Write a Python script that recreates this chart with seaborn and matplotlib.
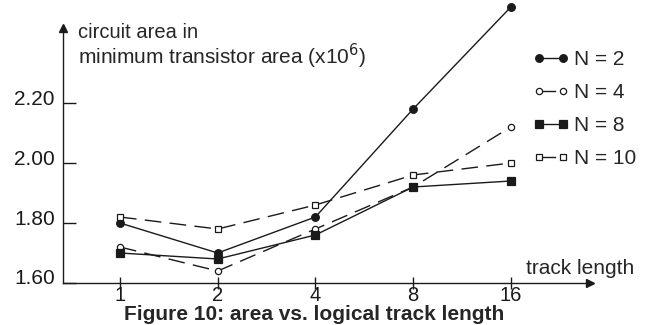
import numpy as np
import pandas as pd
import seaborn as sns
import matplotlib.pyplot as plt
import matplotlib.transforms as mtransforms

# values
track_length = [1, 2, 4, 8, 16]
area_n2 = [1.80, 1.70, 1.82, 2.18, 2.52]
area_n4 = [1.72, 1.64, 1.78, 1.92, 2.12]
area_n8 = [1.70, 1.68, 1.76, 1.92, 1.94]
area_n10 = [1.82, 1.78, 1.86, 1.96, 2.00]
y_ticks = [1.60, 1.80, 2.00, 2.20]

sns.set_theme(style="white")
plt.rcParams['font.family'] = ['Liberation Sans', 'DejaVu Sans']

fig = plt.figure(figsize=(6.45, 3.25), dpi=100)
ax = fig.add_axes([63 / 645, 42 / 325, 527 / 645, 255 / 325])

dash = (0, (12, 6))
series = [
    ("N = 2", area_n2, "o", "k", "-", 5.5),
    ("N = 4", area_n4, "o", "white", dash, 4.5),
    ("N = 8", area_n8, "s", "k", "-", 5.5),
    ("N = 10", area_n10, "s", "white", dash, 4.5),
]
for name, vals, mk, fc, ls, ms in series:
    df = pd.DataFrame({"track": track_length, "area": vals})
    sns.lineplot(data=df, x="track", y="area", ax=ax, color="k", lw=1.0,
                 marker=mk, markersize=ms, markerfacecolor=fc,
                 markeredgecolor="k", markeredgewidth=0.9,
                 linestyle=ls, label=name, clip_on=False)

ax.set_xscale("log", base=2)
ax.set_xlim(2 ** -0.583, 2 ** 4.81)
ax.set_ylim(1.6, 2.45)
ax.set_xticks(track_length)
ax.set_xticklabels([str(t) for t in track_length])
ax.minorticks_off()
ax.set_yticks(y_ticks)
ax.set_yticklabels([f"{v:.2f}" for v in y_ticks])
ax.set_xlabel("")
ax.set_ylabel("")

for s in ["top", "right"]:
    ax.spines[s].set_visible(False)
for s in ["left", "bottom"]:
    ax.spines[s].set_color("k")
    ax.spines[s].set_linewidth(1.0)

ax.tick_params(axis="x", direction="inout", length=9, width=1, colors="k",
               labelsize=14.5, pad=-2)
ax.tick_params(axis="y", direction="in", length=9.5, width=1, colors="k",
               labelsize=15, pad=6, left=True)
ax.tick_params(axis="x", bottom=True)
offset = mtransforms.ScaledTranslation(0, 6 / 100, fig.dpi_scale_trans)
for lab in ax.get_yticklabels():
    lab.set_transform(lab.get_transform() + offset)

# arrow heads on the axes
ax.plot(1, 0, ">", color="k", markersize=6, transform=ax.transAxes, clip_on=False)
ax.plot(0, 1, "^", color="k", markersize=6, transform=ax.transAxes, clip_on=False)

fig.text(78 / 645, 1 - 38 / 325, "circuit area in",
         fontsize=14.5, va="baseline", ha="left")
fig.text(78 / 645, 1 - 64 / 325, "minimum transistor area (x10$^6$)",
         fontsize=15, va="baseline", ha="left")
fig.text(634 / 645, 1 - 278 / 325, "track length", fontsize=15,
         ha="right", va="bottom")

ax.legend(loc="upper left", bbox_to_anchor=(533 / 645, 1 - 50 / 325),
          bbox_transform=fig.transFigure, frameon=False, numpoints=2,
          handlelength=1.75, handletextpad=0.2, labelspacing=0.68,
          borderpad=0, borderaxespad=0, fontsize=15)

fig.text(0.487, 1 - 315 / 325, "Figure 10: area vs. logical track length",
         ha="center", va="center", fontsize=15, fontweight="bold")

fig.savefig("out.png", dpi=100)
